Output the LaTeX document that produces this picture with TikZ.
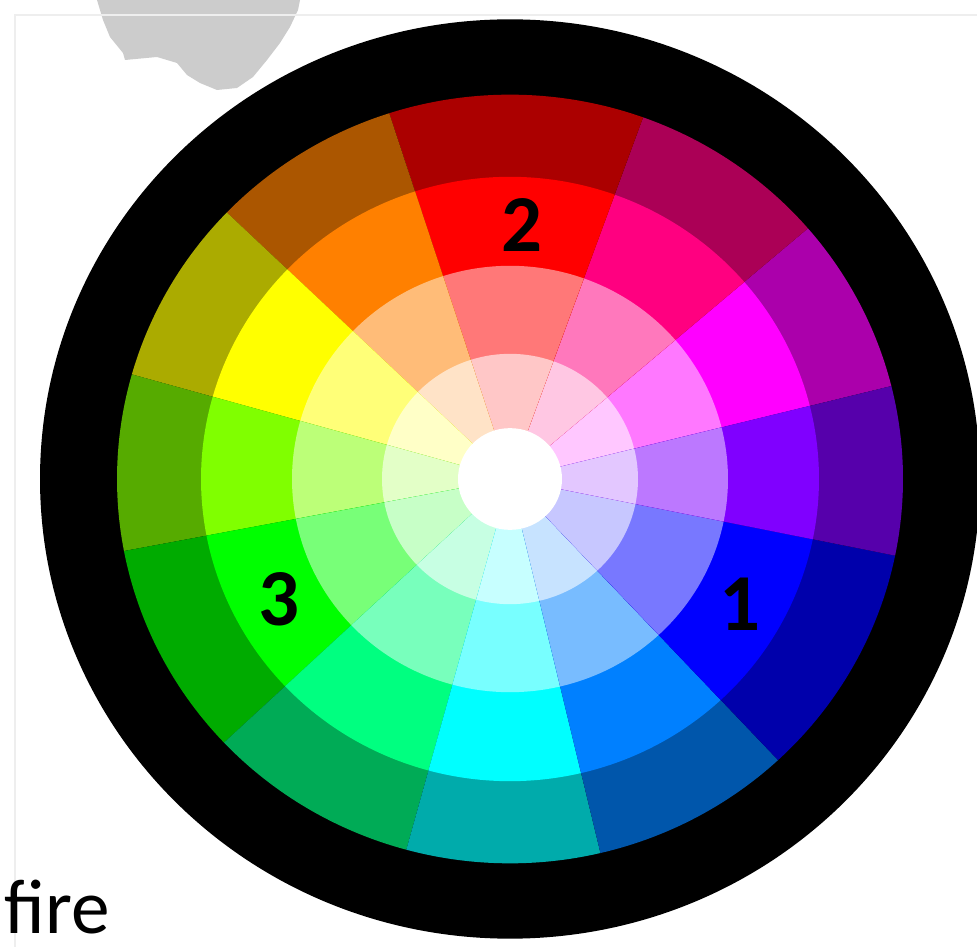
\documentclass[tikz,border=0pt]{standalone}
\usepackage{fontspec}
\setmainfont{Carlito}
\usetikzlibrary{positioning}
\definecolor{WheelRed}{RGB}{255,0,0}
\definecolor{WheelOrange}{RGB}{255,128,0}
\definecolor{WheelYellow}{RGB}{255,255,0}
\definecolor{WheelLime}{RGB}{128,255,0}
\definecolor{WheelGreen}{RGB}{0,255,0}
\definecolor{WheelSpring}{RGB}{0,255,128}
\definecolor{WheelCyan}{RGB}{0,255,255}
\definecolor{WheelAzure}{RGB}{0,128,255}
\definecolor{WheelBlue}{RGB}{0,0,255}
\definecolor{WheelViolet}{RGB}{128,0,255}
\definecolor{WheelMagenta}{RGB}{255,0,255}
\definecolor{WheelRose}{RGB}{255,0,128}
\definecolor{BlobGray}{RGB}{204,204,204}
\definecolor{FrameLine}{RGB}{238,238,238}

\begin{document}
\begin{tikzpicture}[x=0.02cm, y=0.02cm]
  \clip (0,0) rectangle (977,947);
  \fill[white] (0,0) rectangle (977,947);
  % grey smudge, top left
  \fill[BlobGray] (97,947) -- (103,927) -- (110,910) -- (123,894) -- (125,887) -- (157,890)
    -- (177,884) -- (187,872) -- (200,864) -- (217,857) -- (237,859) -- (253,870)
    -- (267,887) -- (280,904) -- (290,920) -- (298,937) -- (300,947) -- cycle;
  \draw[FrameLine, line width=0.03cm] (15,0) -- (15,932) -- (977,932);
  % the wheel
  \begin{scope}[shift={(510,468)}, yscale=0.978]
    \fill[black] (0,0) circle[radius=470];
    \foreach \a/\b/\c in {14/40.7/WheelMagenta, 40.7/70.2/WheelRose, 70.2/107.9/WheelRed,
        107.9/136.1/WheelOrange, 136.1/164.2/WheelYellow, 164.2/190.8/WheelLime,
        190.8/223.3/WheelGreen, 223.3/254.7/WheelSpring, 254.7/283.3/WheelCyan,
        283.3/313/WheelAzure, 313/348.5/WheelBlue, 348.5/374/WheelViolet} {
      \fill[\c!67!black] (0,0) -- (\a:393) arc[start angle=\a, end angle=\b, radius=393] -- cycle;
      \fill[\c] (0,0) -- (\a:309) arc[start angle=\a, end angle=\b, radius=309] -- cycle;
      \fill[\c!53!white] (0,0) -- (\a:218) arc[start angle=\a, end angle=\b, radius=218] -- cycle;
      \fill[\c!22!white] (0,0) -- (\a:128) arc[start angle=\a, end angle=\b, radius=128] -- cycle;
    }
    \fill[white] (0,0) circle[radius=52];
  \end{scope}
  \node[inner sep=0pt, font=\bfseries\fontsize{46}{46}\selectfont] (two) at (522,722) {2};
  \node[inner sep=0pt, font=\bfseries\fontsize{46}{46}\selectfont] (three) at (279,348) {3};
  \node[inner sep=0pt, font=\bfseries\fontsize{46}{46}\selectfont] (one) at (740,343) {1};
  \node[inner sep=0pt, anchor=base west, font=\fontsize{44}{44}\selectfont] (fire) at (4,14) {fire};
\end{tikzpicture}
\end{document}
